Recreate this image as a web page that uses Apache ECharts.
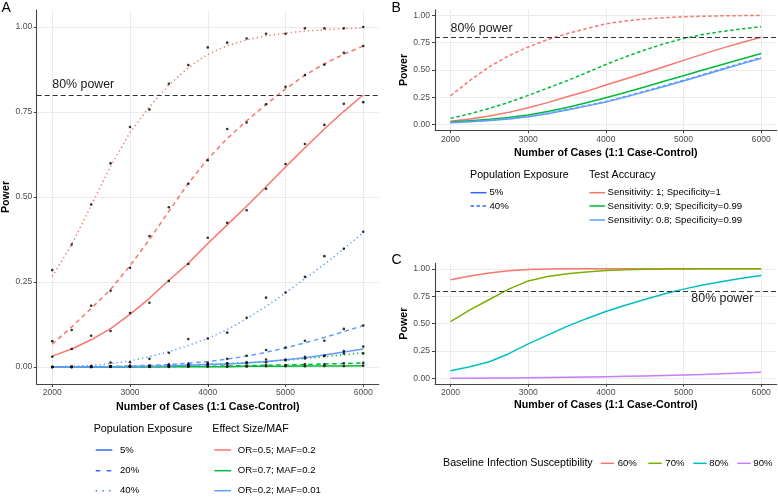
<!DOCTYPE html>
<html><head><meta charset="utf-8">
<script src="https://cdn.jsdelivr.net/npm/echarts@6/dist/echarts.min.js"></script>
<style>html,body{margin:0;padding:0;background:#fff}#c{width:778px;height:497px}</style>
</head><body><div id="c"></div><script>
// ---------- data ----------
const cases = [2000,2250,2500,2750,3000,3250,3500,3750,4000,4250,4500,4750,5000,5250,5500,5750,6000];
const xTicks = [2000,3000,4000,5000,6000];
const yTicks = [0,0.25,0.5,0.75,1];

// Panel A fitted curves
const aRed5   = [0.032,0.053,0.080,0.113,0.155,0.202,0.255,0.305,0.363,0.418,0.473,0.530,0.588,0.645,0.700,0.752,0.800];
const aRed20  = [0.067,0.118,0.172,0.228,0.298,0.375,0.458,0.540,0.612,0.672,0.724,0.772,0.818,0.858,0.892,0.920,0.944];
const aRed40  = [0.266,0.360,0.475,0.590,0.690,0.765,0.830,0.880,0.920,0.945,0.962,0.974,0.982,0.988,0.992,0.995,0.997];
const aGreen5 = [0,0,0,0,0,0,0.001,0.001,0.001,0.001,0.002,0.002,0.002,0.003,0.003,0.003,0.004];
const aGreen20= [0,0,0,0,0.001,0.001,0.001,0.002,0.002,0.003,0.004,0.005,0.006,0.007,0.009,0.010,0.012];
const aGreen40= [0,0,0.001,0.001,0.002,0.003,0.004,0.006,0.008,0.010,0.013,0.016,0.020,0.025,0.030,0.036,0.042];
const aBlue5  = [0,0,0,0.001,0.001,0.002,0.003,0.005,0.007,0.009,0.012,0.016,0.021,0.027,0.035,0.044,0.053];
const aBlue20 = [0,0,0.001,0.002,0.003,0.005,0.007,0.011,0.016,0.023,0.032,0.043,0.056,0.071,0.087,0.104,0.122];
const aBlue40 = [0,0.002,0.005,0.010,0.018,0.030,0.045,0.063,0.084,0.110,0.142,0.178,0.218,0.260,0.302,0.348,0.395];
// Panel A simulated points
const pRed5   = [0.030,0.053,0.092,0.106,0.159,0.189,0.253,0.303,0.380,0.424,0.461,0.524,0.597,0.656,0.712,0.774,0.779];
const pRed20  = [0.076,0.109,0.180,0.224,0.292,0.385,0.470,0.539,0.608,0.700,0.719,0.773,0.824,0.859,0.889,0.924,0.944];
const pRed40  = [0.285,0.360,0.478,0.599,0.706,0.757,0.833,0.888,0.940,0.954,0.966,0.980,0.980,0.996,0.996,0.996,1.000];
const pGreen5 = [0,0,0,0,0,0,0,0.001,0.001,0.001,0.001,0.002,0.002,0.002,0.003,0.003,0.004];
const pGreen20= [0,0,0,0.001,0.001,0.001,0.002,0.002,0.003,0.004,0.004,0.006,0.006,0.008,0.008,0.011,0.012];
const pGreen40= [0,0,0.001,0.002,0.002,0.003,0.005,0.006,0.009,0.011,0.014,0.022,0.022,0.025,0.033,0.040,0.040];
const pBlue5  = [0,0,0,0.001,0.002,0.002,0.003,0.006,0.008,0.010,0.012,0.014,0.020,0.030,0.033,0.047,0.060];
const pBlue20 = [0,0,0.001,0.003,0.004,0.004,0.008,0.010,0.012,0.024,0.033,0.050,0.057,0.077,0.077,0.112,0.122];
const pBlue40 = [0,0.001,0.003,0.013,0.014,0.024,0.042,0.082,0.084,0.101,0.145,0.204,0.219,0.265,0.326,0.348,0.398];

// Panel B
const bRed5   = [0.032,0.053,0.080,0.113,0.155,0.202,0.255,0.305,0.363,0.418,0.473,0.530,0.588,0.645,0.700,0.752,0.800];
const bRed40  = [0.265,0.405,0.530,0.630,0.710,0.778,0.832,0.878,0.922,0.948,0.966,0.978,0.986,0.991,0.995,0.997,0.998];
const bGreen5 = [0.027,0.037,0.050,0.067,0.088,0.120,0.158,0.200,0.247,0.295,0.345,0.397,0.448,0.500,0.550,0.600,0.650];
const bGreen40= [0.058,0.100,0.150,0.205,0.268,0.335,0.402,0.475,0.550,0.620,0.683,0.740,0.788,0.825,0.852,0.876,0.896];
const bBlue5  = [0.018,0.027,0.038,0.053,0.072,0.100,0.135,0.170,0.207,0.252,0.300,0.350,0.400,0.452,0.505,0.556,0.607];
const bBlue40 = [0.020,0.029,0.040,0.055,0.075,0.104,0.139,0.175,0.212,0.258,0.306,0.356,0.406,0.459,0.512,0.564,0.615];

// Panel C
const c60 = [0.900,0.935,0.962,0.982,0.994,0.998,1,1,1,1,1,1,1,1,1,1,1];
const c70 = [0.518,0.625,0.720,0.815,0.890,0.930,0.955,0.972,0.985,0.992,0.996,0.998,0.999,1,1,1,1];
const c80 = [0.070,0.105,0.152,0.225,0.315,0.395,0.475,0.545,0.610,0.668,0.720,0.770,0.815,0.852,0.885,0.915,0.939];
const c90 = [0,0.001,0.002,0.003,0.005,0.007,0.009,0.012,0.015,0.018,0.022,0.026,0.031,0.036,0.042,0.048,0.055];

const powerLine = 0.8;

// ---------- styling ----------
const F = '"Liberation Sans", Arial, sans-serif';
const RED='#F8766D', GREEN='#00BA38', BLUE='#619CFF', LT='#3366FF';
const CCOL=['#F8766D','#7CAE00','#00BFC4','#C77CFF'];
const DASH_A=[4.5,3.5], DOT_A=[1.3,3], DASH_B=[3.5,2.5];
const LW=1.5;

function pairs(ys){ return cases.map((x,i)=>[x,ys[i]]); }
function line(g, ys, color, type, z){
  return {type:'line', xAxisIndex:g, yAxisIndex:g, data:pairs(ys), symbol:'none', showSymbol:false,
    smooth:false, lineStyle:{color, width:LW, type, cap:'butt', join:'round'}, itemStyle:{color},
    z:z||2, silent:true, animation:false};
}
function pts(ys){
  return {type:'scatter', xAxisIndex:0, yAxisIndex:0, data:pairs(ys), symbol:'circle', symbolSize:2.6,
    itemStyle:{color:'#000'}, z:6, silent:true, animation:false};
}
function ref(g){
  return {type:'line', xAxisIndex:g, yAxisIndex:g, data:[], silent:true, animation:false,
    markLine:{silent:true, symbol:'none', animation:false, label:{show:false},
      lineStyle:{color:'#333', width:1, type:[5,3]}, data:[{yAxis:powerLine}]}, z:3};
}
function xAx(g, gap, margin){
  return {type:'value', gridIndex:g, min:1800, max:6200,
    name:'Number of Cases (1:1 Case-Control)', nameLocation:'middle', nameGap:gap,
    nameTextStyle:{fontSize:10.7, fontWeight:'bold', color:'#000', fontFamily:F},
    axisLine:{show:true, onZero:false, lineStyle:{color:'#444', width:1.1}},
    axisTick:{show:true, length:3, lineStyle:{color:'#444', width:1}, customValues:xTicks},
    axisLabel:{customValues:xTicks, margin, fontSize:8.6, color:'#4D4D4D', fontFamily:F,
      formatter:v=>String(v)},
    splitLine:{show:true, lineStyle:{color:'#EBEBEB', width:1}}};
}
function yAx(g, gap, margin){
  return {type:'value', gridIndex:g, min:-0.05, max:1.05,
    name:'Power', nameLocation:'middle', nameGap:gap, nameRotate:90,
    nameTextStyle:{fontSize:10.7, fontWeight:'bold', color:'#000', fontFamily:F},
    axisLine:{show:true, onZero:false, lineStyle:{color:'#444', width:1.1}},
    axisTick:{show:true, length:3, lineStyle:{color:'#444', width:1}, customValues:yTicks},
    axisLabel:{customValues:yTicks, margin, fontSize:8.6, color:'#4D4D4D', fontFamily:F,
      formatter:v=>v.toFixed(2)},
    splitLine:{show:true, lineStyle:{color:'#EBEBEB', width:1}}};
}

const chart = echarts.init(document.getElementById('c'), null, {renderer:'canvas'});
chart.setOption({
  animation:false,
  backgroundColor:'#fff',
  grid:[
    {left:36.7, top:10, width:342.1, height:374, containLabel:false, outerBoundsMode:'none'},
    {left:435, top:9.8, width:341.7, height:120.4, containLabel:false, outerBoundsMode:'none'},
    {left:435, top:263.4, width:341.7, height:120.4, containLabel:false, outerBoundsMode:'none'}
  ],
  xAxis:[xAx(0,16,3.8), xAx(1,17,5), xAx(2,16,4.5)],
  yAxis:[yAx(0,20.5,4.5), yAx(1,25,5), yAx(2,25,5)],
  series:[
    ref(0), ref(1), ref(2),
    line(0,aGreen5,GREEN,'solid'), line(0,aGreen20,GREEN,DASH_A), line(0,aGreen40,GREEN,DOT_A),
    line(0,aBlue5,BLUE,'solid'), line(0,aBlue20,BLUE,DASH_A), line(0,aBlue40,BLUE,DOT_A),
    line(0,aRed5,RED,'solid'), line(0,aRed20,RED,DASH_A), line(0,aRed40,RED,DOT_A),
    pts(pGreen5), pts(pGreen20), pts(pGreen40), pts(pBlue5), pts(pBlue20), pts(pBlue40),
    pts(pRed5), pts(pRed20), pts(pRed40),
    line(1,bRed5,RED,'solid'), line(1,bRed40,RED,DASH_B),
    line(1,bGreen5,GREEN,'solid'), line(1,bGreen40,GREEN,DASH_B),
    line(1,bBlue5,BLUE,'solid'), line(1,bBlue40,BLUE,DASH_B,4),
    line(2,c60,CCOL[0],'solid',2), line(2,c70,CCOL[1],'solid',3), line(2,c80,CCOL[2],'solid'), line(2,c90,CCOL[3],'solid')
  ]
});

// ---------- annotations & legends ----------
const els = [];
function txt(x,y,s,size,opt){
  els.push({type:'text', silent:true, style:Object.assign({x,y,text:s,font:(opt&&opt.bold?'bold ':'')+size+'px '+F,
    fill:(opt&&opt.fill)||'#000', textAlign:(opt&&opt.align)||'left', textVerticalAlign:'middle'})});
}
function key(x1,x2,y,color,dash){
  els.push({type:'line', silent:true, shape:{x1,y1:y,x2,y2:y}, style:{stroke:color, lineWidth:LW, lineDash:dash||null}});
}
// panel letters
txt(1.5,8.5,'A',14); txt(391.5,8.5,'B',14); txt(391.5,260.5,'C',14);
// 80% power labels positioned in data space
const pa = chart.convertToPixel({gridIndex:0}, [2000, 0.83]);
const pb = chart.convertToPixel({gridIndex:1}, [2000, 0.876]);
const pc = chart.convertToPixel({gridIndex:2}, [5500, 0.73]);
txt(pa[0],pa[1],'80% power',12.4,{fill:'#1a1a1a'});
txt(pb[0],pb[1],'80% power',12.4,{fill:'#1a1a1a'});
txt(pc[0],pc[1],'80% power',12.4,{fill:'#1a1a1a',align:'center'});

// Legend A
txt(93.7,429.3,'Population Exposure',10.7);
[['5%','solid',450],['20%',[4.5,6.5],470.7],['40%',[1.3,5.4],490.7]].forEach(r=>{
  key(95.7,112.3,r[2],LT,r[1]==='solid'?null:r[1]); txt(120,r[2],r[0],9.6);
});
txt(212.3,429.3,'Effect Size/MAF',10.7);
[['OR=0.5; MAF=0.2',RED,450],['OR=0.7; MAF=0.2',GREEN,470.7],['OR=0.2; MAF=0.01',BLUE,490.7]].forEach(r=>{
  key(214.3,231,r[2],r[1]); txt(237.7,r[2],r[0],9.6);
});
// Legend B
txt(470,175,'Population Exposure',10.7);
key(470.5,486.5,192.7,LT); txt(489.5,192.7,'5%',9.6);
key(470.5,486.5,206,LT,[3.5,2.5]); txt(489.5,206,'40%',9.6);
txt(589,175,'Test Accuracy',10.7);
[['Sensitivity: 1; Specificity=1',RED,192.7],['Sensitivity: 0.9; Specificity=0.99',GREEN,206],['Sensitivity: 0.8; Specificity=0.99',BLUE,220]].forEach(r=>{
  key(589.5,605,r[2],r[1]); txt(607.5,r[2],r[0],9.6);
});
// Legend C
txt(443,463.3,'Baseline Infection Susceptibility',10.7);
[['60%',600.7,617.7],['70%',648.3,665.3],['80%',693.3,709.3],['90%',737.3,753.3]].forEach((r,i)=>{
  key(r[1],r[1]+13.4,463.3,CCOL[i]); txt(r[2],463.3,r[0],9.6);
});
chart.setOption({graphic:{elements:els}});
</script></body></html>
